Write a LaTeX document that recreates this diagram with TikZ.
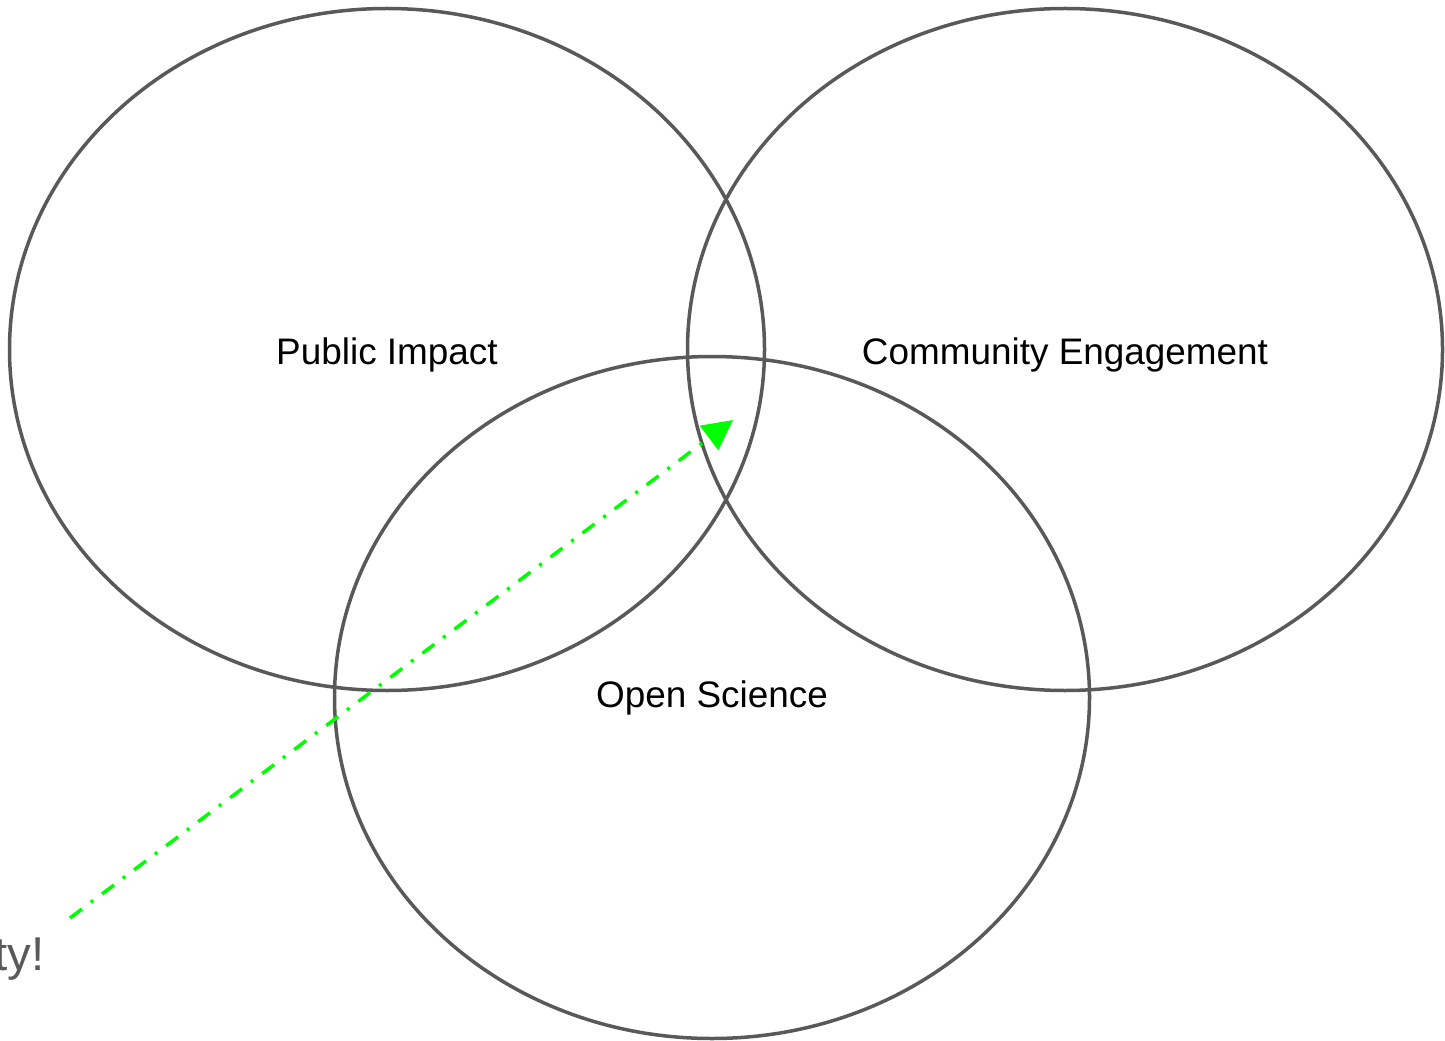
\documentclass[tikz,border=0pt]{standalone}
\usepackage{fontspec}
\setmainfont{Liberation Sans}
\usepackage{tikz}
\usetikzlibrary{shapes.geometric,arrows.meta}

\definecolor{ringgray}{HTML}{595959}
\definecolor{arrowgreen}{HTML}{00FF00}

\begin{document}
\begin{tikzpicture}

\useasboundingbox (0,0) rectangle (28.9,-20.82);

\node [draw=ringgray,
    ellipse,
    line width=0.07cm,
    inner sep=0pt,
    minimum width =15.1cm,
    minimum height =13.64cm,
    text height=0.75cm,
    text depth=0.15cm,
    font=\fontsize{21}{25}\selectfont] (PI) at (7.74,-6.99){Public Impact};

\node [draw=ringgray,
    ellipse,
    line width=0.07cm,
    inner sep=0pt,
    minimum width =15.1cm,
    minimum height =13.64cm,
    text height=0.75cm,
    text depth=0.15cm,
    font=\fontsize{21}{25}\selectfont] (CE) at (21.3,-6.99){Community Engagement};

\node [draw=ringgray,
    ellipse,
    line width=0.07cm,
    inner sep=0pt,
    minimum width =15.1cm,
    minimum height =13.64cm,
    text height=0.53cm,
    text depth=0.15cm,
    font=\fontsize{21}{25}\selectfont] (OS) at (14.24,-13.95){Open Science};

\node [anchor=base east,
    inner sep=0pt,
    text=ringgray,
    font=\fontsize{27}{32}\selectfont] (note) at (0.9,-19.4){ty!};

\coordinate (tail) at (1.4,-18.36);
\coordinate (tip) at (14.66,-8.4);

\draw [arrowgreen,
    line width=0.07cm,
    dash pattern=on 8.5pt off 6.3pt on 1.7pt off 6.3pt,
    -{Triangle[length=0.6cm,width=0.6cm]}] (tail) -- (tip);

\end{tikzpicture}
\end{document}
